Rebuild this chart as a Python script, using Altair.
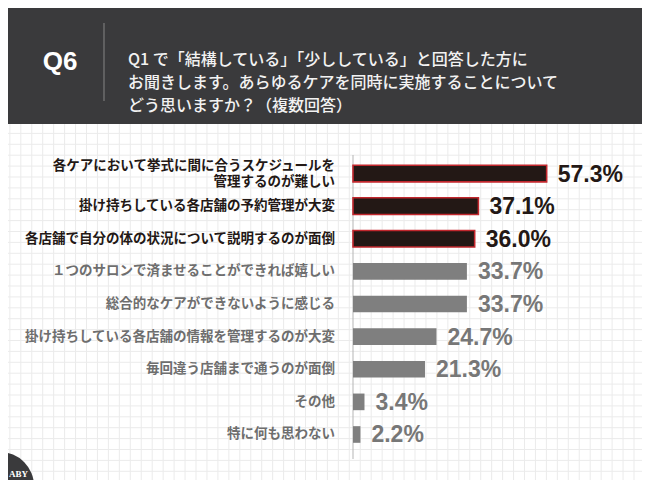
import altair as alt
import numpy as np
import pandas as pd

# ---- data ----
keys = ["c1", "c2", "c3", "c4", "c5", "c6", "c7", "c8", "c9"]
labels = [
    "各ケアにおいて挙式に間に合うスケジュールを\n管理するのが難しい",
    "掛け持ちしている各店舗の予約管理が大変",
    "各店舗で自分の体の状況について説明するのが面倒",
    "１つのサロンで済ませることができれば嬉しい",
    "総合的なケアができないように感じる",
    "掛け持ちしている各店舗の情報を管理するのが大変",
    "毎回違う店舗まで通うのが面倒",
    "その他",
    "特に何も思わない",
]
values = [57.3, 37.1, 36.0, 33.7, 33.7, 24.7, 21.3, 3.4, 2.2]
value_text = ["57.3%", "37.1%", "36.0%", "33.7%", "33.7%", "24.7%", "21.3%", "3.4%", "2.2%"]
top = [True, True, True, False, False, False, False, False, False]

title_badge = "Q6"
question = "Q1 で「結構している」「少ししている」と回答した方に\nお聞きします。あらゆるケアを同時に実施することについて\nどう思いますか？（複数回答）"

df = pd.DataFrame({"key": keys, "label": labels, "value": values,
                   "vtext": value_text, "top": top})

BG = "#3a3a3c"
W, H = 634, 472
one = pd.DataFrame({"a": [0]})

xs = alt.Scale(domain=[0, 100], range=[345, 683])
ys = alt.Scale(domain=keys, range=[149.2, 442.8], paddingInner=0.49, paddingOuter=0.245)

# white panel
panel = alt.Chart(one).mark_rect(color="white").encode(
    x=alt.value(0), x2=alt.value(W), y=alt.value(116), y2=alt.value(H))

# graph-paper grid (decoration)
gx = pd.DataFrame({"gx": np.arange(1.85, W, 10.95)})
gy = pd.DataFrame({"gy": np.arange(125.4, H, 10.9)})
vgrid = alt.Chart(gx).mark_rule(color="#ebebeb", strokeWidth=1).encode(
    x=alt.X("gx:Q", scale=None), y=alt.value(116), y2=alt.value(H))
hgrid = alt.Chart(gy).mark_rule(color="#ebebeb", strokeWidth=1).encode(
    y=alt.Y("gy:Q", scale=None), x=alt.value(0), x2=alt.value(W))

# baseline axis
axis_line = alt.Chart(one).mark_rule(color="#b5b5b5", strokeWidth=1).encode(
    x=alt.value(345), y=alt.value(147), y2=alt.value(451))

bars = alt.Chart(df).mark_bar().encode(
    x=alt.X("value:Q", scale=xs, axis=None),
    y=alt.Y("key:N", scale=ys, axis=None),
    color=alt.condition("datum.top", alt.value("#231815"), alt.value("#7f7f7f")),
    stroke=alt.condition("datum.top", alt.value("#c1272d"), alt.value("#7f7f7f")),
    strokeWidth=alt.condition("datum.top", alt.value(1.6), alt.value(0)),
)

vals = alt.Chart(df).mark_text(align="left", baseline="middle", dx=11, dy=1,
                               font="Liberation Sans", fontSize=23, fontWeight="bold").encode(
    x=alt.X("value:Q", scale=xs, axis=None),
    y=alt.Y("key:N", scale=ys, axis=None),
    text="vtext:N",
    color=alt.condition("datum.top", alt.value("#231815"), alt.value("#777777")),
)

# category labels: multi-line labels split into separate line marks
lab_base = alt.Chart(df).transform_calculate(
    parts="split(datum.label, '\\n')",
    n="length(split(datum.label, '\\n'))",
    line1="split(datum.label, '\\n')[0]",
    line2="length(split(datum.label, '\\n')) > 1 ? split(datum.label, '\\n')[1] : ''",
)

def label_layer(filt, field, color, dy):
    return lab_base.transform_filter(filt).mark_text(
        align="right", baseline="middle", dy=dy,
        font="Noto Sans CJK JP", fontSize=13.5, fontWeight="bold", color=color).encode(
        x=alt.value(327),
        y=alt.Y("key:N", scale=ys, axis=None),
        text=f"{field}:N")

lab_two_a = label_layer("datum.n > 1", "line1", "#231815", -8)
lab_two_b = label_layer("datum.n > 1", "line2", "#231815", 8)
lab_top = label_layer("datum.top && datum.n == 1", "line1", "#231815", 0)
lab_rest = label_layer("!datum.top && datum.n == 1", "line1", "#6e6e6e", 0)

# header
badge = alt.Chart(one).mark_text(
    align="center", baseline="middle", font="Liberation Sans", fontSize=26,
    fontWeight="bold", color="white", text=title_badge).encode(
    x=alt.value(52), y=alt.value(54))
sep = alt.Chart(one).mark_rule(color="#7a7a7a", strokeWidth=1.2).encode(
    x=alt.value(96), y=alt.value(15), y2=alt.value(93))
qtext = alt.Chart(one).mark_text(
    align="left", baseline="middle", lineBreak="\n", lineHeight=23,
    font="Noto Sans CJK JP", fontSize=16, fontWeight=500, color="#f2f2f2",
    text=question).encode(x=alt.value(120), y=alt.value(52))

# logo corner
logo_bg = alt.Chart(one).mark_point(filled=True, shape="circle", opacity=1,
                                    color=BG, size=4624, strokeWidth=0).encode(
    x=alt.value(-8), y=alt.value(478))
logo = alt.Chart(one).mark_text(
    align="left", baseline="middle", font="Liberation Sans Narrow",
    fontSize=9, fontWeight="bold", color="white", text="ABY").encode(
    x=alt.value(1), y=alt.value(466))

chart = alt.layer(
    panel, vgrid, hgrid, axis_line, bars, vals, lab_two_a, lab_two_b, lab_top, lab_rest,
    badge, sep, qtext, logo_bg, logo
).resolve_scale(x="independent", y="independent").properties(
    width=W, height=H, background=BG, padding=0,
    autosize=alt.AutoSizeParams(type="none"),
).configure_view(stroke=None)

chart.save("out.html", embed_options={"renderer": "svg", "actions": False})
